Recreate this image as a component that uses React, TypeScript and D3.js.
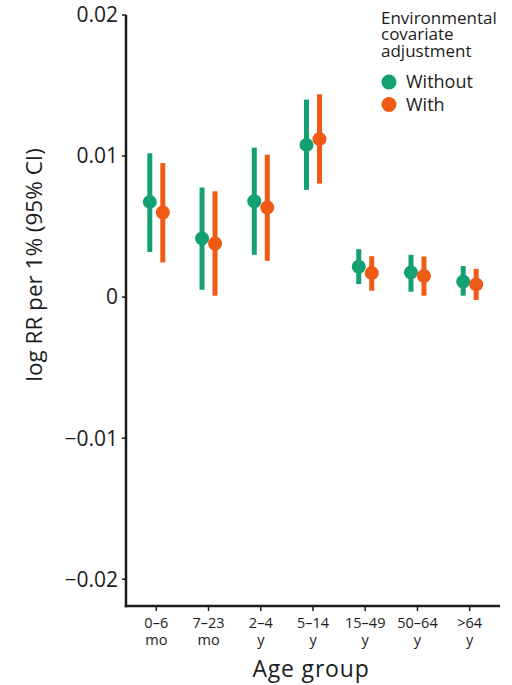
import React from "react";
import * as d3 from "d3";

// Age groups (two-line tick labels)
const ageGroups = ["0–6 mo", "7–23 mo", "2–4 y", "5–14 y", "15–49 y", "50–64 y", ">64 y"];
const ageLine1 = ["0–6", "7–23", "2–4", "5–14", "15–49", "50–64", ">64"];
const ageLine2 = ["mo", "mo", "y", "y", "y", "y", "y"];

// Estimates and 95% CI without environmental covariate adjustment
const withoutEst = [0.00675, 0.00416, 0.0068, 0.01079, 0.00215, 0.00175, 0.0011];
const withoutLo = [0.0032, 0.00052, 0.003, 0.0076, 0.00092, 0.00038, 0.0001];
const withoutHi = [0.0102, 0.00777, 0.0106, 0.014, 0.0034, 0.003, 0.0022];

// Estimates and 95% CI with environmental covariate adjustment
const withEst = [0.006, 0.0038, 0.00635, 0.0112, 0.0017, 0.0015, 0.0009];
const withLo = [0.00246, 0.0001, 0.00257, 0.00805, 0.00045, 0.0001, -0.0002];
const withHi = [0.0095, 0.0075, 0.0101, 0.01438, 0.0029, 0.00288, 0.002];

const yTicks = [0.02, 0.01, 0, -0.01, -0.02];
const legendTitle = ["Environmental", "covariate", "adjustment"];
const seriesNames = ["Without", "With"];

const GREEN = "#13a073";
const ORANGE = "#ef5a15";
const INK = "#1c1c1c";
const FONT = "'Open Sans', sans-serif";

export default function App() {
  const width = 512;
  const height = 685;
  const axisX = 126;
  const axisBottom = 606;
  const axisTop = 15;

  const y = d3.scaleLinear().domain([-0.0219, 0.02]).range([axisBottom, axisTop]);
  const x = d3.scalePoint<string>().domain(ageGroups).range([axisX, 500]).padding(0.58);
  const fmt = (v: number) => (v === 0 ? "0" : d3.format(".2~f")(v));
  const dodge = 6.5;

  const series = [
    { name: seriesNames[0], color: GREEN, est: withoutEst, lo: withoutLo, hi: withoutHi, off: -dodge },
    { name: seriesNames[1], color: ORANGE, est: withEst, lo: withLo, hi: withHi, off: dodge },
  ];

  return (
    <svg width={width} height={height} style={{ display: "block", position: "absolute", left: 0, top: 0 }} fontFamily={FONT}>
      <rect width={width} height={height} fill="#fff" />

      {/* y axis */}
      <line x1={axisX} x2={axisX} y1={axisTop} y2={axisBottom + 1.25} stroke={INK} strokeWidth={2.5} />
      {yTicks.map((t) => (
        <g key={t} transform={`translate(0,${y(t)})`}>
          <line x1={axisX - 4} x2={axisX} stroke={INK} strokeWidth={1.5} />
          <text x={axisX - 8} dy="0.35em" textAnchor="end" fontSize={21} fill={INK}>
            {fmt(t)}
          </text>
        </g>
      ))}
      <text
        transform={`translate(42,265) rotate(-90)`}
        textAnchor="middle"
        fontSize={22.5}
        fill={INK}
      >
        log RR per 1% (95% CI)
      </text>

      {/* x axis */}
      <line x1={axisX - 1.25} x2={500} y1={axisBottom} y2={axisBottom} stroke={INK} strokeWidth={2.5} />
      {ageGroups.map((g, i) => (
        <g key={g} transform={`translate(${x(g)},0)`}>
          <line y1={axisBottom} y2={axisBottom + 5} stroke={INK} strokeWidth={1.5} />
          <text y={628} textAnchor="middle" fontSize={14.5} fill={INK}>
            <tspan x={0}>{ageLine1[i]}</tspan>
            <tspan x={0} dy={17}>{ageLine2[i]}</tspan>
          </text>
        </g>
      ))}
      <text x={311} y={677} textAnchor="middle" fontSize={23} letterSpacing={0.8} fill={INK}>
        Age group
      </text>

      {/* estimates with confidence intervals */}
      {series.map((s) => (
        <g key={s.name}>
          {ageGroups.map((g, i) => {
            const cx = (x(g) as number) + s.off;
            return (
              <g key={g}>
                <line x1={cx} x2={cx} y1={y(s.lo[i])} y2={y(s.hi[i])} stroke={s.color} strokeWidth={5} />
                <circle cx={cx} cy={y(s.est[i])} r={7} fill={s.color} />
              </g>
            );
          })}
        </g>
      ))}

      {/* legend */}
      <text x={381} y={23.5} fontSize={17} fill={INK}>
        {legendTitle.map((l, i) => (
          <tspan key={l} x={381} dy={i === 0 ? 0 : 16.5}>
            {l}
          </tspan>
        ))}
      </text>
      {series.map((s, i) => (
        <g key={s.name} transform={`translate(0,${82 + i * 22.5})`}>
          <circle cx={389} cy={0} r={7.5} fill={s.color} />
          <text x={406} dy="0.35em" fontSize={18} fill={INK}>
            {s.name}
          </text>
        </g>
      ))}
    </svg>
  );
}
